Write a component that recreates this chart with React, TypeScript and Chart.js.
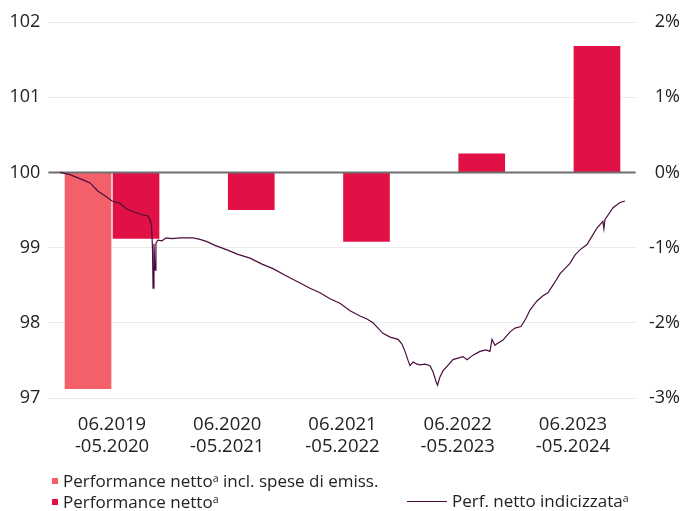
import React, { useEffect, useRef } from 'react';
import { Chart, registerables } from 'chart.js';

Chart.register(...registerables);

// ---- data ----
const categories = [
  ['06.2019', '-05.2020'],
  ['06.2020', '-05.2021'],
  ['06.2021', '-05.2022'],
  ['06.2022', '-05.2023'],
  ['06.2023', '-05.2024'],
];
const perfInclFees: (number | null)[] = [-2.89, null, null, null, null];
const perfNet: number[] = [-0.89, -0.51, -0.93, 0.26, 1.69];

// months since 06.2019
const indexMonths: number[] = [
  0.0, 1.06, 2.44, 3.19, 4.04, 4.78, 5.52, 6.37, 7.11, 7.96, 8.6, 9.34, 9.56, 9.72, 9.82, 9.88,
  9.98, 10.09, 10.19, 10.4, 10.83, 11.26, 11.9, 12.74, 14.12, 14.87, 15.61, 16.46, 17.73, 18.9,
  20.18, 21.45, 22.62, 24.1, 25.49, 26.55, 27.61, 28.67, 29.73, 30.8, 31.86, 32.6, 33.24, 33.77,
  34.3, 35.05, 35.9, 36.3, 36.64, 36.96, 37.17, 37.49, 37.92, 38.23, 38.76, 39.29, 39.61, 39.93,
  40.09, 40.35, 40.67, 41.1, 41.73, 42.26, 42.8, 43.22, 43.86, 44.6, 45.24, 45.66, 45.88, 46.19,
  46.4, 47.04, 47.79, 48.32, 48.95, 49.49, 49.91, 50.65, 51.29, 51.82, 52.45, 53.09, 53.62,
  54.15, 54.68, 55.21, 55.96, 56.49, 57.02, 57.65, 57.76, 57.87, 58.73, 59.47, 60.0,
];
const indexValues: number[] = [
  100.0, 99.97, 99.9, 99.86, 99.75, 99.69, 99.62, 99.59, 99.51, 99.47, 99.44, 99.42, 99.37, 99.3,
  99.0, 98.46, 99.05, 98.7, 99.06, 99.1, 99.09, 99.13, 99.12, 99.13, 99.13, 99.11, 99.08, 99.03,
  98.97, 98.91, 98.86, 98.78, 98.72, 98.62, 98.53, 98.46, 98.4, 98.32, 98.26, 98.16, 98.09, 98.05,
  98.0, 97.93, 97.86, 97.81, 97.78, 97.72, 97.62, 97.5, 97.43, 97.48, 97.45, 97.44, 97.45, 97.43,
  97.35, 97.22, 97.17, 97.28, 97.36, 97.42, 97.51, 97.53, 97.55, 97.51, 97.57, 97.62, 97.64,
  97.62, 97.78, 97.7, 97.72, 97.77, 97.88, 97.93, 97.95, 98.06, 98.17, 98.29, 98.36, 98.4, 98.52,
  98.65, 98.72, 98.79, 98.9, 98.97, 99.04, 99.15, 99.26, 99.35, 99.25, 99.37, 99.53, 99.6, 99.62,
];

const leftMin = 97;
const leftMax = 102;
const baseValue = 100;
const rightMin = -3;
const rightMax = 2;

// ---- styles ----
const FONT = "'Open Sans', sans-serif";
const TEXT = '#222222';
const SALMON = '#F4606A';
const RED = '#E11146';
const LINE = '#4A0D3F';
const GRID = '#EBEBEB';
const ZERO = '#6F6F6F';

// zero line drawn above the bars but below the index line
const zeroLinePlugin = {
  id: 'zeroLine',
  beforeDatasetDraw(chart: any, args: any) {
    if (args.index !== 0) return;
    const y = chart.scales.y.getPixelForValue(baseValue);
    const { left, right } = chart.chartArea;
    const ctx = chart.ctx;
    ctx.save();
    ctx.strokeStyle = ZERO;
    ctx.lineWidth = 2;
    ctx.beginPath();
    ctx.moveTo(left - 6, y);
    ctx.lineTo(right + 5, y);
    ctx.stroke();
    ctx.restore();
  },
};

export default function App() {
  const ref = useRef<HTMLCanvasElement>(null);

  useEffect(() => {
    const chart = new Chart(ref.current!, {
      type: 'bar',
      data: {
        labels: categories as any,
        datasets: [
          {
            type: 'line',
            label: 'Perf. netto indicizzata',
            data: indexMonths.map((m, i) => ({ x: m, y: indexValues[i] })) as any,
            xAxisID: 'x2',
            yAxisID: 'y',
            borderColor: LINE,
            borderWidth: 1.2,
            pointRadius: 0,
            tension: 0,
            order: 0,
          } as any,
          {
            type: 'bar',
            label: 'Performance netto incl. spese di emiss.',
            data: perfInclFees as any,
            backgroundColor: SALMON,
            borderColor: 'rgba(255,255,255,0.45)',
            borderWidth: 1,
            xAxisID: 'x',
            yAxisID: 'y2',
            barThickness: 48,
            order: 1,
          },
          {
            type: 'bar',
            label: 'Performance netto',
            data: perfNet,
            backgroundColor: RED,
            borderColor: 'rgba(255,255,255,0.45)',
            borderWidth: 1,
            xAxisID: 'x',
            yAxisID: 'y2',
            barThickness: 48,
            order: 2,
          },
        ],
      },
      options: {
        animation: false,
        responsive: true,
        maintainAspectRatio: false,
        layout: { padding: { top: 22, right: 4, bottom: 53, left: 0 } },
        plugins: { legend: { display: false }, tooltip: { enabled: false } },
        scales: {
          x: {
            type: 'category',
            offset: true,
            grid: { display: false, drawTicks: false },
            border: { display: false },
            ticks: {
              padding: 16,
              color: TEXT,
              font: { family: FONT, size: 18.5, lineHeight: 1.19 },
              maxRotation: 0,
              minRotation: 0,
              autoSkip: false,
            },
            afterFit: (s: any) => {
              s.height = 60;
            },
          },
          x2: {
            type: 'linear',
            display: false,
            offset: false,
            grid: { offset: false },
            min: -0.595,
            max: 60.595,
          },
          y: {
            position: 'left',
            min: leftMin,
            max: leftMax,
            ticks: {
              stepSize: 1,
              padding: 8,
              color: TEXT,
              font: { family: FONT, size: 18 },
            },
            grid: {
              color: GRID,
              lineWidth: 1,
              tickColor: GRID,
              tickLength: 6,
            },
            border: { display: false },
            afterFit: (s: any) => {
              s.width = 54.4;
            },
          },
          y2: {
            position: 'right',
            min: rightMin,
            max: rightMax,
            ticks: {
              stepSize: 1,
              padding: 8,
              color: TEXT,
              crossAlign: 'far',
              font: { family: FONT, size: 18 },
              callback: (v: any) => `${v}%`,
            },
            grid: {
              drawOnChartArea: false,
              color: GRID,
              lineWidth: 1,
              tickColor: GRID,
              tickLength: 5,
            },
            border: { display: false },
            afterFit: (s: any) => {
              s.width = 49.4;
            },
          },
        },
      } as any,
      plugins: [zeroLinePlugin],
    });
    return () => chart.destroy();
  }, []);

  const legendText: React.CSSProperties = {
    position: 'absolute',
    fontFamily: FONT,
    fontSize: 17,
    lineHeight: '20px',
    color: TEXT,
    whiteSpace: 'nowrap',
  };
  const sup: React.CSSProperties = { fontSize: '0.62em', verticalAlign: '0.45em', lineHeight: 0 };

  return (
    <div style={{ position: 'absolute', left: 0, top: 0, width: 684, height: 511, background: '#fff' }}>
      <canvas ref={ref} />
      <div style={{ position: 'absolute', left: 52, top: 478, width: 6, height: 6, background: SALMON }} />
      <div style={{ ...legendText, left: 63, top: 471 }}>
        Performance netto<span style={sup}>a</span> incl. spese di emiss.
      </div>
      <div style={{ position: 'absolute', left: 52, top: 499, width: 6, height: 6, background: RED }} />
      <div style={{ ...legendText, left: 63, top: 492 }}>
        Performance netto<span style={sup}>a</span>
      </div>
      <div style={{ position: 'absolute', left: 407, top: 501, width: 40, height: 1, background: LINE }} />
      <div style={{ ...legendText, left: 452, top: 491 }}>
        Perf. netto indicizzata<span style={sup}>a</span>
      </div>
    </div>
  );
}
